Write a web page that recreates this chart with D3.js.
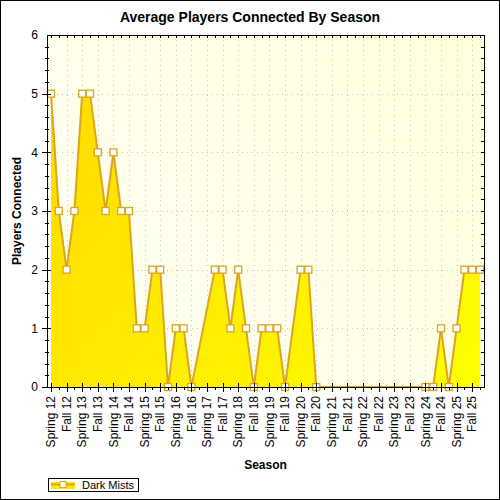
<!DOCTYPE html>
<html>
<head>
<meta charset="utf-8">
<script src="https://cdn.jsdelivr.net/npm/d3@7"></script>
<style>
  body { margin: 0; background: #fff; }
  svg text { font-family: "Liberation Sans", Arial, sans-serif; }
</style>
</head>
<body>
<script>
"use strict";

///////////////////
// data
///////////////////
var seasons = [
    "Spring 12", "Summer 12", "Fall 12", "Winter 12",
    "Spring 13", "Summer 13", "Fall 13", "Winter 13",
    "Spring 14", "Summer 14", "Fall 14", "Winter 14",
    "Spring 15", "Summer 15", "Fall 15", "Winter 15",
    "Spring 16", "Summer 16", "Fall 16", "Winter 16",
    "Spring 17", "Summer 17", "Fall 17", "Winter 17",
    "Spring 18", "Summer 18", "Fall 18", "Winter 18",
    "Spring 19", "Summer 19", "Fall 19", "Winter 19",
    "Spring 20", "Summer 20", "Fall 20", "Winter 20",
    "Spring 21", "Summer 21", "Fall 21", "Winter 21",
    "Spring 22", "Summer 22", "Fall 22", "Winter 22",
    "Spring 23", "Summer 23", "Fall 23", "Winter 23",
    "Spring 24", "Summer 24", "Fall 24", "Winter 24",
    "Spring 25", "Summer 25", "Fall 25", "Winter 25"
];
// only every other season gets a label on the axis
var tickLabels = seasons.filter(function(d, i) { return i % 2 === 0; });

// null = no reading that season (line is joined across the gap)
var darkMists = [
    5, 3, 2, 3, 5, 5, 4, 3, 4, 3, 3, 1, 1, 2, 2, 0,
    1, 1, 0, null, null, 2, 2, 1, 2, 1, 0, 1, 1, 1, 0, null,
    2, 2, 0, null, null, null, null, null, null, null, null, null, null, null, null, null,
    0, 0, 1, 0, 1, 2, 2, 2
];
var yTicks = [0, 1, 2, 3, 4, 5, 6];
var seriesName = "Dark Mists";

///////////////////
// layout
///////////////////
var W = 500, H = 500;
var plot = { left: 47, right: 484, top: 35, bottom: 387 };
var lineColor = "#DAA520";

var svg = d3.select("body").append("svg")
    .attr("width", W)
    .attr("height", H);

var defs = svg.append("defs");

var bg = defs.append("linearGradient")
    .attr("id", "plotBg")
    .attr("gradientUnits", "userSpaceOnUse")
    .attr("x1", plot.left).attr("y1", plot.bottom)
    .attr("x2", plot.right).attr("y2", plot.top);
bg.append("stop").attr("offset", "0%").attr("stop-color", "#FFFFF5");
bg.append("stop").attr("offset", "100%").attr("stop-color", "#FFFFDC");

var fillGrad = defs.append("linearGradient")
    .attr("id", "areaFill")
    .attr("gradientUnits", "userSpaceOnUse")
    .attr("x1", plot.left).attr("y1", plot.top)
    .attr("x2", plot.right).attr("y2", plot.bottom);
fillGrad.append("stop").attr("offset", "0%").attr("stop-color", "#FFD800");
fillGrad.append("stop").attr("offset", "100%").attr("stop-color", "#FFFF00");

// outer frame
svg.append("rect")
    .attr("x", 0.5).attr("y", 0.5)
    .attr("width", W - 1).attr("height", H - 1)
    .attr("fill", "#fff")
    .attr("stroke", "#000");

// scales
var x = d3.scalePoint()
    .domain(seasons)
    .range([51, 480]);
var y = d3.scaleLinear()
    .domain([0, 6])
    .range([plot.bottom, plot.top]);

// plot background
svg.append("rect")
    .attr("x", plot.left).attr("y", plot.top)
    .attr("width", plot.right - plot.left)
    .attr("height", plot.bottom - plot.top)
    .attr("fill", "url(#plotBg)");

// dotted grid
var grid = svg.append("g")
    .attr("stroke", "#C4C4C4")
    .attr("stroke-dasharray", "1,4");
grid.selectAll("line.v")
    .data(tickLabels.slice(1))
    .enter()
    .append("line")
    .attr("x1", function(d) { return Math.round(x(d)) + 0.5; })
    .attr("x2", function(d) { return Math.round(x(d)) + 0.5; })
    .attr("y1", plot.top)
    .attr("y2", plot.bottom);
grid.selectAll("line.h")
    .data(yTicks.slice(1, -1))
    .enter()
    .append("line")
    .attr("x1", plot.left)
    .attr("x2", plot.right)
    .attr("y1", function(d) { return Math.round(y(d)) + 0.5; })
    .attr("y2", function(d) { return Math.round(y(d)) + 0.5; });

// series (gaps are bridged, so drop the nulls)
var points = seasons.map(function(s, i) {
    return { season: s, value: darkMists[i] };
}).filter(function(d) { return d.value !== null; });

var area = d3.area()
    .x(function(d) { return x(d.season); })
    .y0(y(0))
    .y1(function(d) { return y(d.value); });
var line = d3.line()
    .x(function(d) { return x(d.season); })
    .y(function(d) { return y(d.value); });

svg.append("path")
    .datum(points)
    .attr("d", area)
    .attr("fill", "url(#areaFill)");

svg.append("path")
    .datum(points)
    .attr("d", line)
    .attr("fill", "none")
    .attr("stroke", lineColor)
    .attr("stroke-width", 2);

svg.selectAll("rect.marker")
    .data(points)
    .enter()
    .append("rect")
    .attr("class", "marker")
    .attr("x", function(d) { return x(d.season) - 3.5; })
    .attr("y", function(d) { return y(d.value) - 3.5; })
    .attr("width", 7)
    .attr("height", 7)
    .attr("fill", "#fff")
    .attr("stroke", lineColor)
    .attr("stroke-width", 1.3);

// frame + ticks
var axes = svg.append("g").attr("stroke", "#000").attr("shape-rendering", "crispEdges");
axes.append("rect")
    .attr("x", plot.left).attr("y", plot.top)
    .attr("width", plot.right - plot.left)
    .attr("height", plot.bottom - plot.top)
    .attr("fill", "none");

// bottom: long ticks on labelled seasons, short ones in between
axes.selectAll("line.xb")
    .data(seasons)
    .enter()
    .append("line")
    .attr("x1", function(d) { return Math.round(x(d)); })
    .attr("x2", function(d) { return Math.round(x(d)); })
    .attr("y1", function(d, i) { return i % 2 === 0 ? plot.bottom - 4 : plot.bottom; })
    .attr("y2", function(d, i) { return i % 2 === 0 ? plot.bottom + 5 : plot.bottom + 3; });
// top: small inner ticks
axes.selectAll("line.xt")
    .data(seasons)
    .enter()
    .append("line")
    .attr("x1", function(d) { return Math.round(x(d)); })
    .attr("x2", function(d) { return Math.round(x(d)); })
    .attr("y1", plot.top)
    .attr("y2", plot.top + 3);

var minorY = d3.range(0, 30).map(function(k) { return k / 5; });
axes.selectAll("line.yl")
    .data(minorY)
    .enter()
    .append("line")
    .attr("x1", function(d, i) { return i % 5 === 0 ? plot.left - 5 : plot.left - 2; })
    .attr("x2", function(d, i) { return i % 5 === 0 ? plot.left + 4 : plot.left + 2; })
    .attr("y1", function(d) { return Math.round(y(d)); })
    .attr("y2", function(d) { return Math.round(y(d)); });
axes.selectAll("line.yr")
    .data(minorY)
    .enter()
    .append("line")
    .attr("x1", plot.right - 3)
    .attr("x2", plot.right)
    .attr("y1", function(d) { return Math.round(y(d)); })
    .attr("y2", function(d) { return Math.round(y(d)); });

// tick labels
svg.selectAll("text.ytick")
    .data(yTicks)
    .enter()
    .append("text")
    .attr("x", 38)
    .attr("y", function(d) { return y(d); })
    .attr("dy", "0.35em")
    .attr("text-anchor", "end")
    .attr("font-size", 12)
    .text(function(d) { return d; });

svg.selectAll("text.xtick")
    .data(tickLabels)
    .enter()
    .append("text")
    .attr("transform", function(d) { return "translate(" + x(d) + "," + 396 + ") rotate(-90)"; })
    .attr("dy", "0.35em")
    .attr("text-anchor", "end")
    .attr("font-size", 12)
    .text(function(d) { return d; });

// titles
svg.append("text")
    .attr("x", 250).attr("y", 22)
    .attr("text-anchor", "middle")
    .attr("font-size", 14)
    .attr("font-weight", "bold")
    .text("Average Players Connected By Season");

svg.append("text")
    .attr("x", (plot.left + plot.right) / 2).attr("y", 469)
    .attr("text-anchor", "middle")
    .attr("font-size", 12)
    .attr("font-weight", "bold")
    .text("Season");

svg.append("text")
    .attr("transform", "translate(21," + (plot.top + plot.bottom) / 2 + ") rotate(-90)")
    .attr("text-anchor", "middle")
    .attr("font-size", 12)
    .attr("font-weight", "bold")
    .text("Players Connected");

// legend
var legend = svg.append("g");
legend.append("rect")
    .attr("x", 48.5).attr("y", 478.5)
    .attr("width", 90).attr("height", 13)
    .attr("fill", "#fff")
    .attr("stroke", "#000");
legend.append("rect")
    .attr("x", 51).attr("y", 482)
    .attr("width", 24).attr("height", 7)
    .attr("fill", "#FFE800");
legend.append("line")
    .attr("x1", 51).attr("x2", 75)
    .attr("y1", 484.5).attr("y2", 484.5)
    .attr("stroke", lineColor)
    .attr("stroke-width", 2);
legend.append("rect")
    .attr("x", 60).attr("y", 481.5)
    .attr("width", 6).attr("height", 6)
    .attr("fill", "#fff")
    .attr("stroke", lineColor);
legend.append("text")
    .attr("x", 82).attr("y", 489)
    .attr("font-size", 11)
    .text(seriesName);
</script>
</body>
</html>
